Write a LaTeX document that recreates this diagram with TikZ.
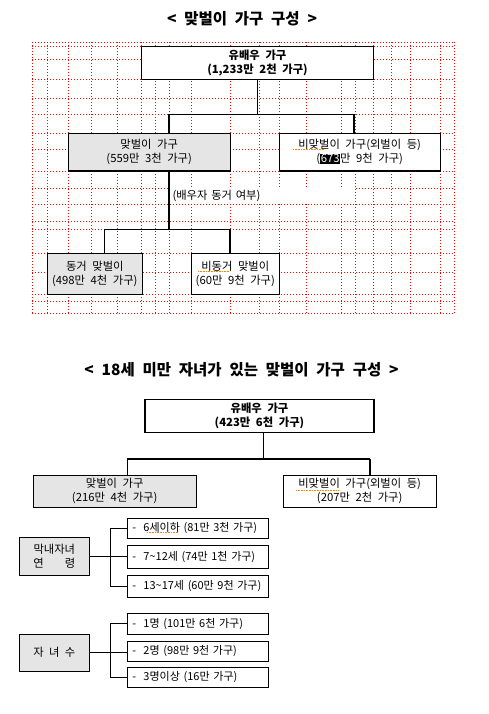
\documentclass[tikz,border=0pt]{standalone}
\usepackage{fontspec}
\setmainfont{Noto Sans CJK KR}[WordSpace=2.2]
\usetikzlibrary{positioning}
\tikzset{
    box/.style={rectangle, draw=black, line width=1.1pt, fill=white, align=center, inner sep=0pt, font=\fontsize{11.3}{14}\selectfont},
    graybox/.style={box, fill=gray!20},
    itembox/.style={rectangle, draw=black, line width=1.1pt, fill=white, align=left, text width=131pt, inner xsep=5pt, inner ysep=0pt, font=\fontsize{11}{14}\selectfont},
    heading/.style={font=\fontsize{15.5}{18}\selectfont\bfseries},
    guide/.style={red, dash pattern=on 1pt off 2pt, line width=1pt},
    link/.style={line width=1.1pt},
    spell/.style={orange, densely dotted, line width=0.6pt}
}

\begin{document}
\begin{tikzpicture}[x=1pt, y=-1pt]
    \useasboundingbox (0,0) rectangle (489,714);

    % ---------- chart 1: all couples ----------
    \node[heading] (title1) at (242,18.3) {< 맞벌이 가구 구성 >};

    % hidden table lines
    \foreach \gx in {32,47.7,68.3,91,117.7,141.7,155,169,191.7,230,259,279.3,306,341,355,373.3,391.7,410.7,440,454.5} {
        \draw[guide] (\gx,42.3) -- (\gx,313.3);
    }
    \foreach \gy in {42.3,46.7,60,79.3,98.3,114.3,133.7,150,171.7,188.3,204,221.7,229.3,253.3,272.3,294.3,301.7,313.3} {
        \draw[guide] (32,\gy) -- (454.5,\gy);
    }

    % boxes
    \node[box, minimum width=231.6pt, minimum height=33pt, font=\fontsize{11.3}{13.5}\selectfont\bfseries] (top1) at (257.5,62.8) {유배우 가구\\(1,233만 2천 가구)};
    \node[graybox, minimum width=161.7pt, minimum height=37.7pt] (lft1) at (149.2,152.2) {맞벌이 가구\\(559만 3천 가구)};
    \node[box, minimum width=160.7pt, minimum height=37.7pt] (rgt1) at (359.7,152.2) {비맞벌이 가구(외벌이 등)\\({\fboxsep=0.6pt\colorbox{black}{\textcolor{white}{673}}}만 9천 가구)};
    \node[graybox, minimum width=95pt, minimum height=40.7pt] (bl1) at (94.8,273.7) {동거 맞벌이\\(498만 4천 가구)};
    \node[box, minimum width=88pt, minimum height=40.7pt] (br1) at (235.3,273.7) {비동거 맞벌이\\(60만 9천 가구)};
    \node[fill=white, align=left, text width=180pt, inner xsep=2.5pt, inner ysep=0pt, minimum height=15.7pt, font=\fontsize{11.3}{14}\selectfont] (cohab) at (262.5,196.2) {(배우자 동거 여부)};

    % connectors
    \coordinate (t1) at (169,114.3);
    \coordinate (t2) at (354,114.3);
    \draw[link] (top1.south) -- (top1.south |- t1);
    \draw[link] (t1) -- (t2);
    \draw[link] (t1) -- (t1 |- lft1.north);
    \draw[link] (t2) -- (t2 |- rgt1.north);
    \coordinate (b0) at (169,229.3);
    \coordinate (b1) at (104.3,229.3);
    \coordinate (b2) at (230,229.3);
    \draw[link] (b0 |- lft1.south) -- (b0);
    \draw[link] (b1) -- (b2);
    \draw[link] (b1) -- (b1 |- bl1.north);
    \draw[link] (b2) -- (b2 |- br1.north);

    % spell check marks
    \draw[spell] (293,149.3) -- (324,149.3);
    \draw[spell] (198,271.7) -- (230,271.7);

    % ---------- chart 2: couples with children under 18 ----------
    \node[heading] (title2) at (241.5,370) {< 18세 미만 자녀가 있는 맞벌이 가구 구성 >};

    \node[box, minimum width=229pt, minimum height=32.7pt, font=\fontsize{11.3}{13.5}\selectfont\bfseries] (top2) at (259.5,415.7) {유배우 가구\\(423만 6천 가구)};
    \node[graybox, minimum width=162.7pt, minimum height=31.7pt] (lft2) at (114.7,491.2) {맞벌이 가구\\(216만 4천 가구)};
    \node[box, minimum width=152.7pt, minimum height=31.7pt] (rgt2) at (359.7,491.2) {비맞벌이 가구(외벌이 등)\\(207만 2천 가구)};

    \coordinate (s0) at (263.3,459);
    \coordinate (s1) at (127.3,459);
    \coordinate (s2) at (370,459);
    \draw[link] (s0 |- top2.south) -- (s0);
    \draw[link] (s1) -- (s2);
    \draw[link] (s1) -- (s1 |- lft2.north);
    \draw[link] (s2) -- (s2 |- rgt2.north);

    % age of youngest child
    \node[graybox, minimum width=70pt, minimum height=38pt] (age) at (54.3,556.3) {막내자녀\\\makebox[42pt][s]{연\hfil 령}};
    \node[itembox, minimum height=20pt] (a1) at (197.8,528.3) {-\ \ 6세이하 (81만 3천 가구)};
    \node[itembox, minimum height=23pt] (a2) at (197.8,556.8) {-\ \ 7\textasciitilde12세 (74만 1천 가구)};
    \node[itembox, minimum height=22.4pt] (a3) at (197.8,586.5) {-\ \ 13\textasciitilde17세 (60만 9천 가구)};
    \coordinate (sp1) at (110.3,556.3);
    \draw[link] (a1.west) -- (a1.west -| sp1) -- (a3.west -| sp1) -- (a3.west);
    \draw[link] (age.east) -- (age.east -| a2.west);

    % number of children
    \node[graybox, minimum width=70pt, minimum height=37.3pt] (kids) at (54.3,652.7) {\makebox[42pt][s]{자\hfil 녀\hfil 수}};
    \node[itembox, minimum height=20.7pt] (k1) at (197.8,623.7) {-\ \ 1명 (101만 6천 가구)};
    \node[itembox, minimum height=20pt] (k2) at (197.8,651.3) {-\ \ 2명 (98만 9천 가구)};
    \node[itembox, minimum height=20pt] (k3) at (197.8,677.3) {-\ \ 3명이상 (16만 가구)};
    \coordinate (sp2) at (110.3,651.3);
    \draw[link] (k1.west) -- (k1.west -| sp2) -- (k3.west -| sp2) -- (k3.west);
    \draw[link] (kids.east) -- (kids.east -| k2.west);

    % spell check marks
    \draw[spell] (296,490) -- (338,490);
    \draw[spell] (147,532.7) -- (178,532.7);
\end{tikzpicture}
\end{document}
